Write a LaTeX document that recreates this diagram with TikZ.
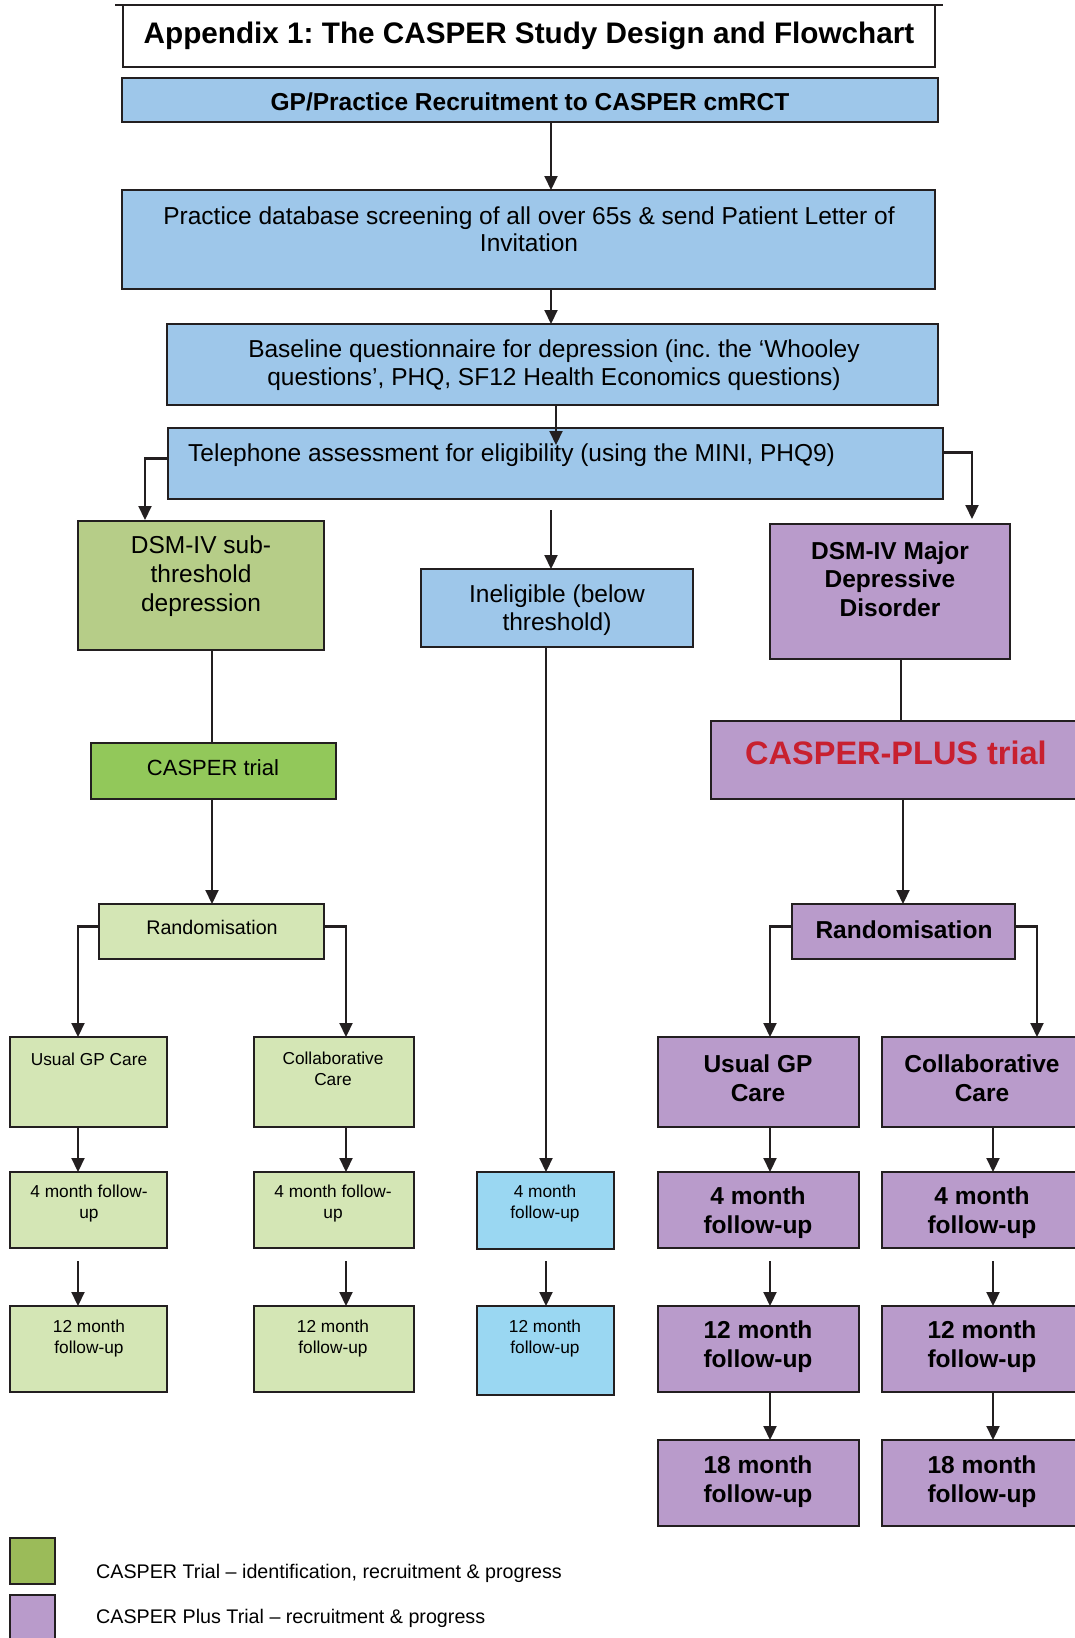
\documentclass[tikz,border=0pt]{standalone}
\usepackage{fontspec}
\setmainfont{Liberation Sans}
\usetikzlibrary{arrows.meta}
\definecolor{lineC}{HTML}{231F20}
\definecolor{boxblue}{HTML}{9EC7EA}
\definecolor{greenA}{HTML}{B6CD88}
\definecolor{greenB}{HTML}{92C85A}
\definecolor{greenC}{HTML}{D4E6B5}
\definecolor{purp}{HTML}{B99BCB}
\definecolor{cyanb}{HTML}{9AD7F2}
\definecolor{leggreen}{HTML}{9BBB59}
\definecolor{redt}{HTML}{C8202F}
\newcommand\mybox[6]{\node[box, fill=#6, minimum width={#4-#2}, minimum height={#5-#3}] (#1) at (#2,#3) {};}
\newcommand\fbig{\fontsize{24.5}{27.5}\selectfont}
\newcommand\fbigb{\fontsize{24.5}{29}\selectfont\bfseries}
\newcommand\fsmall{\fontsize{17.3}{21}\selectfont}
\newcommand\fmid{\fontsize{19.7}{23}\selectfont}
\frenchspacing
\begin{document}
\begin{tikzpicture}[x=1pt,y=-1pt,
  box/.style={draw=lineC, line width=1.9pt, anchor=north west, inner sep=0pt, outer sep=0pt},
  arr/.style={draw=lineC, line width=2.1pt, line join=miter, -{Triangle[length=14pt,width=13pt]}},
  ln/.style={draw=lineC, line width=2.1pt},
  txt/.style={align=center, inner sep=0pt, text=black}]
\useasboundingbox (0,0) rectangle (1075,1638);
% column coordinates
\coordinate (cMain) at (551,0);
\coordinate (cBase) at (556,0);
\coordinate (cL) at (145,0);
\coordinate (cR) at (972,0);
\coordinate (cG) at (212,0);
\coordinate (cGa) at (78,0);
\coordinate (cGb) at (346,0);
\coordinate (cM) at (546,0);
\coordinate (cP) at (901,0);
\coordinate (cPr) at (903,0);
\coordinate (cPa) at (770,0);
\coordinate (cPb) at (993,0);
\coordinate (cPe) at (1037,0);
% boxes
\mybox{title}{123}{5}{935}{67}{white}
\draw[draw=lineC, line width=2.8pt] (115,5) coordinate (tl1) -- (943,5) coordinate (tl2);
\mybox{gp}{122}{78}{938}{122}{boxblue}
\mybox{prac}{122}{190}{935}{289}{boxblue}
\mybox{base}{167}{324}{938}{405}{boxblue}
\mybox{tel}{168}{428}{943}{499}{boxblue}
\mybox{dsmsub}{78}{521}{324}{650}{greenA}
\mybox{inel}{421}{569}{693}{647}{boxblue}
\mybox{dsmmaj}{770}{524}{1010}{659}{purp}
\mybox{ctrial}{91}{743}{336}{799}{greenB}
\mybox{cplus}{711}{721}{1090}{799}{purp}
\mybox{grand}{99}{904}{324}{959}{greenC}
\mybox{prand}{792}{904}{1015}{959}{purp}
\mybox{gusual}{10}{1037}{167}{1127}{greenC}
\mybox{gcollab}{254}{1037}{414}{1127}{greenC}
\mybox{gfa}{10}{1172}{167}{1248}{greenC}
\mybox{gfb}{254}{1172}{414}{1248}{greenC}
\mybox{gta}{10}{1306}{167}{1392}{greenC}
\mybox{gtb}{254}{1306}{414}{1392}{greenC}
\mybox{bf}{477}{1172}{614}{1249}{cyanb}
\mybox{bt}{477}{1306}{614}{1395}{cyanb}
\mybox{pusual}{658}{1037}{859}{1127}{purp}
\mybox{pcollab}{882}{1037}{1090}{1127}{purp}
\mybox{pfa}{658}{1172}{859}{1248}{purp}
\mybox{pfb}{882}{1172}{1090}{1248}{purp}
\mybox{pta}{658}{1306}{859}{1392}{purp}
\mybox{ptb}{882}{1306}{1090}{1392}{purp}
\mybox{pea}{658}{1440}{859}{1526}{purp}
\mybox{peb}{882}{1440}{1090}{1526}{purp}
\mybox{leg1}{10}{1538}{55}{1584}{leggreen}
\mybox{leg2}{10}{1595}{55}{1650}{purp}
% texts
\node[txt, font=\fontsize{29.7}{34}\selectfont\bfseries] (titleT) at (529,36) {Appendix 1: The CASPER Study Design and Flowchart};
\node[txt, font=\fbig\bfseries] (gpT) at (530,102) {GP/Practice Recruitment to CASPER cmRCT};
\node[txt, font=\fbig] (pracT) at (529,229) {Practice database screening of all over 65s \& send Patient Letter of\\Invitation};
\node[txt, font=\fbig] (baseT) at (554,365) {Baseline questionnaire for depression (inc. the ‘Whooley\\questions’, PHQ, SF12 Health Economics questions)};
\node[txt, font=\fbig, anchor=west] (telT) at (188,455) {Telephone assessment for eligibility (using the MINI, PHQ9)};
\node[txt, font=\fontsize{24.5}{28.7}\selectfont] (dsmsubT) at (201,576) {DSM-IV sub-\\threshold\\depression};
\node[txt, font=\fbig] (inelT) at (557,610) {Ineligible (below\\threshold)};
\node[txt, font=\fontsize{24.5}{28.7}\selectfont\bfseries] (dsmmajT) at (890,579) {DSM-IV Major\\Depressive\\Disorder};
\node[txt, font=\fontsize{22}{26}\selectfont] (ctrialT) at (213,768) {CASPER trial};
\node[txt, font=\fontsize{32.5}{36}\selectfont\bfseries, text=redt] (cplusT) at (896,753) {CASPER-PLUS trial};
\node[txt, font=\fmid] (grandT) at (212,927) {Randomisation};
\node[txt, font=\fbig\bfseries] (prandT) at (904,930) {Randomisation};
\node[txt, font=\fsmall] (gusualT) at (89,1059) {Usual GP Care};
\node[txt, font=\fsmall] (gcollabT) at (333,1069) {Collaborative\\Care};
\node[txt, font=\fsmall] (gfaT) at (89,1204) {4 month follow-\\up};
\node[txt, font=\fsmall] (gfbT) at (333,1204) {4 month follow-\\up};
\node[txt, font=\fsmall] (gtaT) at (89,1339) {12 month\\follow-up};
\node[txt, font=\fsmall] (gtbT) at (333,1339) {12 month\\follow-up};
\node[txt, font=\fsmall] (bfT) at (545,1204) {4 month\\follow-up};
\node[txt, font=\fsmall] (btT) at (545,1339) {12 month\\follow-up};
\node[txt, font=\fbigb] (pusualT) at (758,1078) {Usual GP\\Care};
\node[txt, font=\fbigb] (pcollabT) at (982,1078) {Collaborative\\Care};
\node[txt, font=\fbigb] (pfaT) at (758,1213) {4 month\\follow-up};
\node[txt, font=\fbigb] (pfbT) at (982,1213) {4 month\\follow-up};
\node[txt, font=\fbigb] (ptaT) at (758,1347) {12 month\\follow-up};
\node[txt, font=\fbigb] (ptbT) at (982,1347) {12 month\\follow-up};
\node[txt, font=\fbigb] (peaT) at (758,1482) {18 month\\follow-up};
\node[txt, font=\fbigb] (pebT) at (982,1482) {18 month\\follow-up};
\node[txt, font=\fmid, anchor=west] (leg1T) at (96,1573) {CASPER Trial – identification, recruitment \& progress};
\node[txt, font=\fmid, anchor=west] (leg2T) at (96,1618) {CASPER Plus Trial – recruitment \& progress};
% connectors
\draw[arr] (gp.south -| cMain) -- (prac.north -| cMain);
\draw[arr] (prac.south -| cMain) -- (base.north -| cMain);
\draw[arr] (base.south -| cBase) -- ([yshift=-17pt]tel.north -| cBase);
\draw[arr] ([yshift=5pt]tel.west) -| ([yshift=1pt]dsmsub.north -| cL);
\draw[arr] ([yshift=11pt]tel.east) -| ([yshift=5pt]dsmmaj.north -| cR);
\draw[arr] ([yshift=-11pt]tel.south -| cMain) -- (inel.north -| cMain);
\draw[ln] (dsmsub.south -| cG) -- (ctrial.north -| cG);
\draw[arr] (ctrial.south -| cG) -- (grand.north -| cG);
\draw[arr] ([yshift=5pt]grand.west) -| (gusual.north -| cGa);
\draw[arr] ([yshift=5pt]grand.east) -| (gcollab.north -| cGb);
\draw[arr] (gusual.south -| cGa) -- (gfa.north -| cGa);
\draw[arr] ([yshift=-13pt]gfa.south -| cGa) -- (gta.north -| cGa);
\draw[arr] (gcollab.south -| cGb) -- (gfb.north -| cGb);
\draw[arr] ([yshift=-13pt]gfb.south -| cGb) -- (gtb.north -| cGb);
\draw[arr] (inel.south -| cM) -- (bf.north -| cM);
\draw[arr] ([yshift=-12pt]bf.south -| cM) -- (bt.north -| cM);
\draw[ln] (dsmmaj.south -| cP) -- (cplus.north -| cP);
\draw[arr] (cplus.south -| cPr) -- (prand.north -| cPr);
\draw[arr] ([yshift=5pt]prand.west) -| (pusual.north -| cPa);
\draw[arr] ([yshift=5pt]prand.east) -| (pcollab.north -| cPe);
\draw[arr] (pusual.south -| cPa) -- (pfa.north -| cPa);
\draw[arr] ([yshift=-13pt]pfa.south -| cPa) -- (pta.north -| cPa);
\draw[arr] (pta.south -| cPa) -- (pea.north -| cPa);
\draw[arr] (pcollab.south -| cPb) -- (pfb.north -| cPb);
\draw[arr] ([yshift=-13pt]pfb.south -| cPb) -- (ptb.north -| cPb);
\draw[arr] (ptb.south -| cPb) -- (peb.north -| cPb);
\end{tikzpicture}
\end{document}
